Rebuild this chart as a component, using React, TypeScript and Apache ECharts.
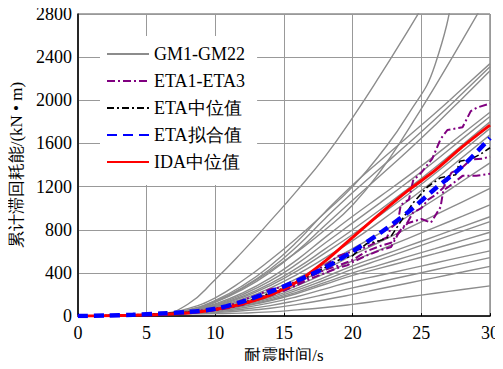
import React, { useEffect, useRef } from "react";
import * as echarts from "echarts";

const times = [0, 2, 4, 6, 8, 10, 12, 14, 16, 18, 20, 22, 24, 26, 28, 30];

// GM1-GM22 cumulative hysteretic energy (kN·m) at the times above
const gmA = [0, 3, 8, 20, 110, 340, 600, 880, 1170, 1480, 1840, 2230, 2640, 3060, 3480, 3900];
const gmB = [0, 3, 8, 18, 70, 170, 330, 520, 730, 960, 1200, 1500, 1860, 2330, 3400, 4400];
const gmC = [0, 3, 7, 15, 50, 130, 260, 420, 600, 800, 1030, 1340, 1720, 2130, 2560, 3000];
const gmT1 = [0, 3, 8, 15, 57, 146, 283, 466, 696, 966, 1215, 1440, 1660, 1880, 2110, 2340];
const gmT2 = [0, 3, 8, 15, 55, 138, 265, 436, 653, 905, 1145, 1370, 1595, 1825, 2065, 2310];
const gmT3 = [0, 3, 8, 15, 52, 129, 247, 406, 607, 842, 1073, 1300, 1530, 1770, 2020, 2275];
const gmM1 = [0, 3, 8, 15, 47, 113, 215, 352, 526, 730, 925, 1110, 1295, 1490, 1690, 1890];
const gmM2 = [0, 3, 8, 15, 45, 106, 200, 326, 488, 677, 864, 1050, 1240, 1438, 1645, 1850];
const gmM3 = [0, 3, 8, 15, 43, 99, 184, 300, 449, 623, 800, 985, 1178, 1378, 1588, 1800];
const gmM4 = [0, 3, 8, 15, 42, 93, 173, 283, 422, 586, 756, 936, 1125, 1322, 1531, 1740];
const gmM5 = [0, 3, 8, 15, 40, 87, 160, 260, 389, 540, 700, 878, 1067, 1264, 1472, 1680];
const gmQ = [0, 3, 8, 15, 38, 80, 145, 235, 351, 487, 626, 770, 923, 1083, 1252, 1420];
const gmL1 = [0, 3, 8, 15, 36, 72, 130, 209, 313, 434, 564, 688, 812, 936, 1059, 1183];
const gmL2 = [0, 3, 8, 15, 34, 67, 119, 191, 285, 396, 511, 615, 719, 823, 926, 1030];
const gmL3 = [0, 3, 8, 15, 33, 62, 109, 175, 261, 362, 466, 557, 648, 739, 830, 921];
const gmL4 = [0, 3, 8, 15, 32, 59, 102, 162, 243, 337, 435, 523, 611, 700, 788, 876];
const gmL5 = [0, 3, 8, 15, 31, 55, 95, 150, 225, 312, 400, 475, 551, 626, 702, 777];
const gmL6 = [0, 3, 8, 15, 30, 53, 90, 142, 212, 295, 377, 444, 512, 579, 647, 714];
const gmL7 = [0, 3, 8, 15, 28, 47, 78, 122, 182, 253, 323, 379, 435, 492, 549, 605];
const gmL8 = [0, 3, 8, 15, 26, 40, 63, 97, 146, 202, 262, 318, 374, 430, 486, 542];
const gmL9 = [0, 3, 8, 15, 24, 33, 49, 73, 109, 152, 201, 253, 305, 357, 409, 461];
const gmL10 = [0, 3, 8, 15, 21, 23, 28, 39, 58, 80, 109, 143, 177, 212, 246, 280];

const gmCurves = [gmA, gmB, gmC, gmT1, gmT2, gmT3, gmM1, gmM2, gmM3, gmM4, gmM5, gmQ,
  gmL1, gmL2, gmL3, gmL4, gmL5, gmL6, gmL7, gmL8, gmL9, gmL10];

// ETA1-ETA3 [time, energy]
const eta1 = [[0,0],[2,4],[4,10],[6,20],[8,35],[10,70],[11,95],[12,150],[13,190],[14,250],[15,270],[16,330],[17,400],[18,470],[19,560],[20,600],[21,640],[22,700],[22.5,730],[22.8,820],[23.3,870],[23.5,1030],[24.1,1080],[24.4,1255],[25,1330],[25.8,1460],[26.4,1640],[26.9,1725],[28,1750],[28.6,1900],[29.1,1935],[30,1970]];
const eta2 = [[0,0],[2,4],[4,9],[6,18],[8,30],[10,60],[11,80],[12,110],[13,170],[14,200],[15,250],[16,300],[17,370],[18,430],[19,470],[20,520],[20.5,560],[21,600],[22,650],[22.8,680],[23.5,800],[24,870],[24.4,960],[25,1000],[25.5,1080],[26,1120],[26.6,1190],[27.2,1330],[28,1380],[28.6,1450],[29.5,1460],[30,1480]];
const eta3 = [[0,0],[2,3],[4,8],[6,16],[8,28],[10,55],[11,75],[12,105],[13,150],[14,190],[15,235],[16,290],[17,350],[18,400],[19,450],[19.6,470],[20,500],[21,560],[22,610],[22.8,640],[23.3,760],[24,860],[25,900],[25.7,867],[26.4,1010],[26.6,1165],[27,1200],[27.5,1250],[28,1300],[29,1300],[30,1320]];
// ETA median
const etaMedian = [[0,0],[1,2],[2,4],[3,6],[4,10],[5,15],[6,20],[7,28],[8,35],[9,45],[10,60],[11,85],[12,120],[13,165],[14,215],[15,260],[16,320],[17,385],[18,450],[19,520],[20,560],[21,670],[22,700],[22.8,740],[23.5,876],[24.4,1048],[25.4,1192],[26.4,1283],[27.5,1310],[27.8,1436],[28.6,1454],[29.3,1500],[30,1560]];
// ETA fitted and IDA median
const etaFit = [0, 5, 12, 24, 38, 68, 135, 225, 330, 450, 600, 770, 960, 1180, 1390, 1650];
const idaMedian = [0, 3, 7, 14, 28, 62, 115, 195, 320, 510, 730, 950, 1160, 1350, 1570, 1770];

const legendNames = ["GM1-GM22", "ETA1-ETA3", "ETA中位值", "ETA拟合值", "IDA中位值"];

const SERIF = "serif";

export default function App() {
  const ref = useRef<HTMLDivElement>(null);
  useEffect(() => {
    if (!ref.current) return;
    const chart = echarts.init(ref.current, undefined, { renderer: "svg" });
    const pair = (arr: number[]) => times.map((t, i) => [t, arr[i]]);
    const series: any[] = [];
    gmCurves.forEach((c) => {
      series.push({
        name: legendNames[0], type: "line", data: pair(c), symbol: "none", showSymbol: false,
        smooth: 0.5,
        lineStyle: { color: "#8c8c8c", width: 1.4 }, itemStyle: { color: "#8c8c8c" },
      });
    });
    [eta1, eta2, eta3].forEach((e) => {
      series.push({
        name: legendNames[1], type: "line", data: e, symbol: "none", showSymbol: false,
        lineStyle: { color: "#800080", width: 2, type: [8, 3, 2, 3] }, itemStyle: { color: "#800080" },
      });
    });
    series.push({
      name: legendNames[2], type: "line", data: etaMedian, symbol: "none", showSymbol: false,
      lineStyle: { color: "#000", width: 1.6, type: [7, 3, 2, 3] }, itemStyle: { color: "#000" },
    });
    series.push({
      name: legendNames[4], type: "line", data: pair(idaMedian), symbol: "none", showSymbol: false, smooth: 0.3,
      lineStyle: { color: "#ff0000", width: 3 }, itemStyle: { color: "#ff0000" },
    });
    series.push({
      name: legendNames[3], type: "line", data: pair(etaFit), symbol: "none", showSymbol: false, smooth: 0.3,
      lineStyle: { color: "#0000ff", width: 4.5, type: [10, 6] }, itemStyle: { color: "#0000ff" },
    });
    chart.setOption({
      animation: false,
      textStyle: { fontFamily: SERIF },
      grid: { left: 75, right: 13, top: 14, bottom: 45, show: true, borderColor: "#555", borderWidth: 1 },
      legend: {
        data: legendNames, orient: "vertical", left: 100, top: 36,
        padding: [9, 12, 14, 6], itemWidth: 42, itemHeight: 14, itemGap: 9,
        backgroundColor: "#fff",
        itemStyle: { opacity: 0 },
        textStyle: { fontFamily: SERIF, fontSize: 18, color: "#000" },
      },
      xAxis: {
        type: "value", min: 0, max: 30, interval: 5,
        name: "耐震时间/s", nameLocation: "middle", nameGap: 24,
        nameTextStyle: { fontFamily: SERIF, fontSize: 17, color: "#000" },
        axisLine: { lineStyle: { color: "#000", width: 1.5 } },
        axisTick: { inside: true, length: 3, lineStyle: { color: "#000" } },
        axisLabel: { fontFamily: SERIF, fontSize: 18, color: "#000", margin: 8, formatter: (v: number) => String(v) },
        splitLine: { lineStyle: { color: "#999", width: 1 } },
      },
      yAxis: {
        type: "value", min: 0, max: 2800, interval: 400,
        name: "累计滞回耗能/(kN • m)", nameLocation: "middle", nameGap: 50,
        nameTextStyle: { fontFamily: SERIF, fontSize: 17, color: "#000" },
        axisLine: { show: true, lineStyle: { color: "#000", width: 1.5 } },
        axisTick: { show: false },
        axisLabel: { fontFamily: SERIF, fontSize: 18, color: "#000", margin: 6, formatter: (v: number) => String(v) },
        splitLine: { lineStyle: { color: "#999", width: 1 } },
      },
      series,
    });
    return () => chart.dispose();
  }, []);
  return <div ref={ref} style={{ width: 503, height: 369, margin: -8 }} />;
}
